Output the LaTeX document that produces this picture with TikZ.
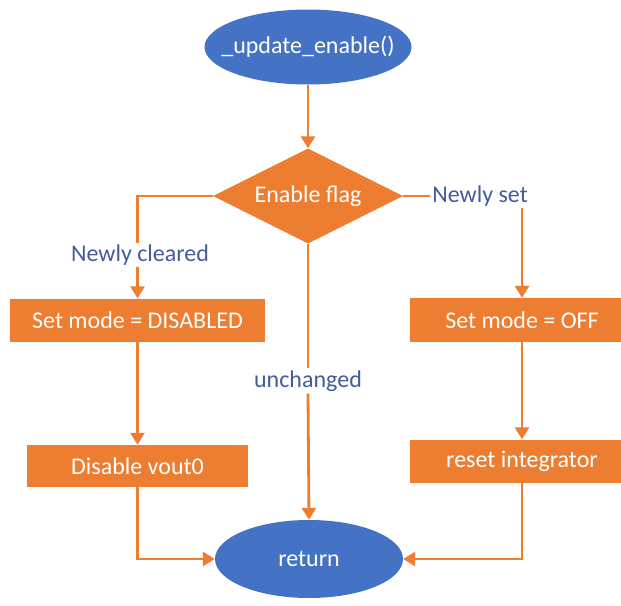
\documentclass[tikz,border=0pt]{standalone}
\usepackage{fontspec}
\setmainfont{Carlito}
\usetikzlibrary{shapes.geometric,arrows.meta}
\definecolor{flowOrange}{RGB}{237,125,49}
\definecolor{flowBlue}{RGB}{68,114,196}
\definecolor{labelBlue}{RGB}{66,92,156}
\tikzset{
  every node/.style={font=\fontsize{24}{28}\selectfont},
  terminal/.style={ellipse, fill=flowBlue, text=white, inner sep=0pt},
  decision/.style={diamond, aspect=2, fill=flowOrange, text=white, inner sep=0pt,
    minimum width=190pt, minimum height=95pt},
  process/.style={rectangle, fill=flowOrange, text=white, inner sep=0pt},
  branchlabel/.style={text=labelBlue, inner sep=2pt},
  link/.style={draw=flowOrange, line width=2.8pt},
  arrowlink/.style={link, -{Triangle[width=14pt,length=12pt]}},
}
\begin{document}
\begin{tikzpicture}[x=1pt,y=-1pt]
  \useasboundingbox[fill=white] (0,0) rectangle (621,605);

  % start and end of the routine
  \node[terminal, minimum width=207pt, minimum height=75pt] (start) at (308,47)
    {\makebox[0pt]{\_update\_enable()}};
  \node[terminal, minimum width=188pt, minimum height=78pt] (ret) at (309,559)
    {\makebox[0pt]{return}};

  % decision on the enable flag
  \node[decision] (flag) at (308,196) {Enable flag};

  % left branch: flag newly cleared
  \node[process, minimum width=255pt, minimum height=43pt] (dis) at (137.5,320)
    {Set mode = DISABLED};
  \node[process, minimum width=221pt, minimum height=42pt] (vout) at (137.5,466)
    {Disable vout0};

  % right branch: flag newly set
  \node[process, minimum width=224pt, minimum height=44pt] (off) at (522,320)
    {Set mode = OFF};
  \node[process, minimum width=224pt, minimum height=43pt] (integ) at (522,461)
    {reset integrator};

  % branch labels
  \node[branchlabel] (lcleared) at (140,255) {Newly cleared};
  \node[branchlabel] (lset) at (480,196) {Newly set};
  \node[branchlabel] (lsame) at (308,381) {unchanged};

  % connectors
  \draw[arrowlink] (start) -- (flag.north);

  \draw[link] (flag.west) -| (lcleared.north -| dis.north);
  \draw[arrowlink] (lcleared.south -| dis.north) -- (dis.north);
  \draw[arrowlink] (dis) -- (vout);
  \draw[arrowlink] (vout.south) |- (ret.west);

  \draw[link] (flag.east) -- (lset.west);
  \draw[arrowlink] (lset.south -| off.north) -- (off.north);
  \draw[arrowlink] (off) -- (integ);
  \draw[arrowlink] (integ.south) |- (ret.east);

  \draw[link] (flag.south) -- (lsame.north);
  \draw[arrowlink] (lsame.south) -- (ret.north);
\end{tikzpicture}
\end{document}
